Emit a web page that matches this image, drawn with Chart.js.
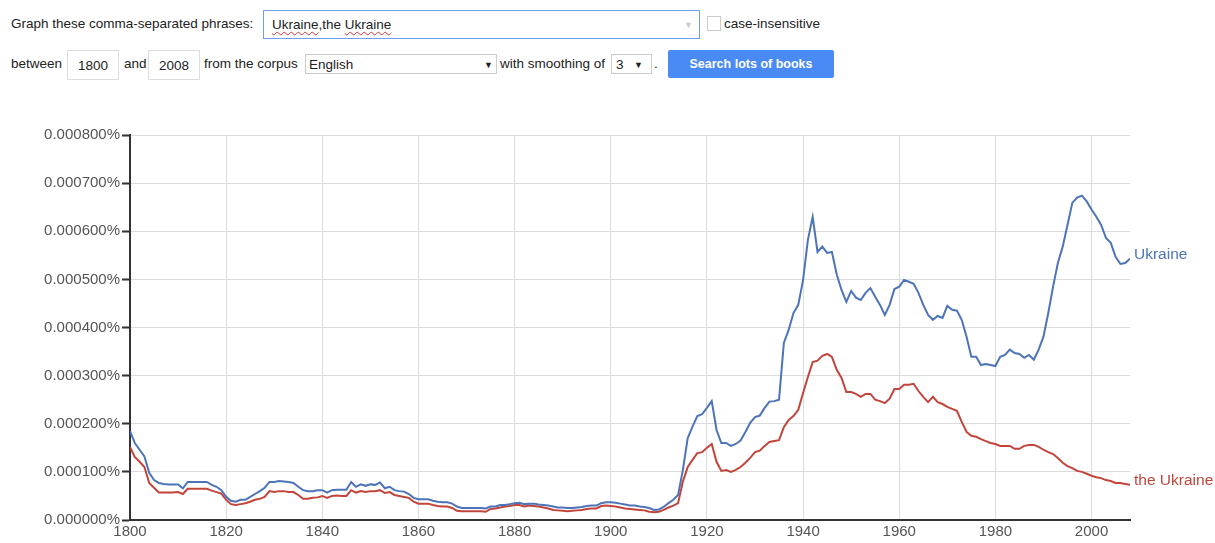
<!DOCTYPE html>
<html>
<head>
<meta charset="utf-8">
<title>Ukraine, the Ukraine</title>
<script src="https://cdn.jsdelivr.net/npm/chart.js@4.4.1/dist/chart.umd.min.js"></script>
<style>
  body { margin: 0; background: #fff; font-family: Arial, "Liberation Sans", sans-serif; color: #222; }
  .page { position: relative; width: 1215px; height: 543px; overflow: hidden; }
  .txt { position: absolute; font-size: 13.5px; line-height: 16px; white-space: nowrap; }
  .box { position: absolute; box-sizing: border-box; background: #fff; font-size: 13.5px; white-space: nowrap; }
  .sp { text-decoration: underline wavy #d33; text-decoration-thickness: 1px; text-underline-offset: 2px; }
  #wrap { position: absolute; left: 0; top: 120px; width: 1215px; height: 423px; }
</style>
</head>
<body>
<div class="page">
  <div class="txt" style="left:11px;top:16px;">Graph these comma-separated phrases:</div>
  <div class="box" style="left:263px;top:10px;width:437px;height:29px;border:1px solid #6d9eeb;padding:6px 0 0 8px;">
    <span class="sp">Ukraine</span>,the <span class="sp">Ukraine</span>
  </div>
  <div class="txt" style="left:684px;top:17px;color:#ccc;font-size:9px;">&#9660;</div>
  <div class="box" style="left:707px;top:16px;width:14px;height:15px;border:1px solid #ccc;"></div>
  <div class="txt" style="left:724px;top:16px;">case-insensitive</div>

  <div class="txt" style="left:11px;top:56px;">between</div>
  <div class="box" style="left:67px;top:50px;width:52px;height:30px;border:1px solid #ddd;padding:7px 0 0 0;text-align:center;">1800</div>
  <div class="txt" style="left:124px;top:56px;">and</div>
  <div class="box" style="left:148px;top:50px;width:52px;height:30px;border:1px solid #ddd;padding:7px 0 0 0;text-align:center;">2008</div>
  <div class="txt" style="left:204px;top:56px;">from the corpus</div>
  <div class="box" style="left:305px;top:54px;width:192px;height:20px;border:1px solid #ccc;padding:2px 0 0 3px;">English</div>
  <div class="txt" style="left:484px;top:57px;font-size:9px;">&#9660;</div>
  <div class="txt" style="left:500px;top:56px;">with smoothing of</div>
  <div class="box" style="left:611px;top:54px;width:41px;height:20px;border:1px solid #ccc;padding:2px 0 0 4px;">3</div>
  <div class="txt" style="left:634px;top:57px;font-size:9px;">&#9660;</div>
  <div class="txt" style="left:654px;top:56px;">.</div>
  <div class="box" style="left:668px;top:50px;width:166px;height:28px;background:#4a8af4;border-radius:2px;color:#fff;font-weight:bold;font-size:12.5px;text-align:center;padding-top:7px;">Search lots of books</div>

  <div id="wrap"><canvas id="grafica"></canvas></div>
</div>

<script>
// años 1800..2008, valores en millonésimas de punto porcentual (800 = 0.000800%)
const anioInicio = 1800;
const nombres = ["Ukraine", "the Ukraine"];
const colores = ["#4d74b8", "#c2453c"];

const ukraine = [
  185, 160, 146, 132, 98, 83, 77, 75, 74, 74,
  74, 66, 79, 79, 79, 79, 79, 73, 69, 62,
  48, 40, 38, 42, 42, 48, 54, 60, 67, 79,
  79, 81, 80, 79, 77, 69, 62, 60, 60, 62,
  62, 57, 62, 63, 63, 63, 79, 69, 74, 71,
  74, 73, 78, 66, 69, 62, 60, 59, 54, 46,
  43, 43, 43, 40, 38, 37, 37, 34, 28, 25,
  25, 25, 25, 25, 24, 28, 28, 31, 31, 33,
  35, 36, 33, 34, 34, 32, 31, 30, 28, 26,
  26, 25, 25, 26, 27, 29, 30, 30, 35, 37,
  37, 36, 34, 32, 30, 30, 28, 27, 25, 21,
  22, 27, 35, 42, 52, 104, 170, 194, 216, 220,
  233, 247, 187, 160, 160, 154, 158, 165, 183, 202,
  214, 217, 233, 246, 247, 250, 368, 395, 430, 447,
  499, 582, 630, 557, 568, 555, 557, 510, 478, 453,
  476, 462, 457, 472, 482, 464, 447, 426, 447, 480,
  485, 499, 495, 491, 472, 447, 426, 416, 424, 420,
  445, 437, 435, 416, 381, 339, 339, 322, 324, 322,
  320, 339, 343, 354, 347, 345, 337, 343, 333, 354,
  381, 430, 485, 534, 568, 613, 659, 670, 674, 662,
  645, 630, 613, 586, 576, 547, 532, 534, 543
];

const theUkraine = [
  152, 131, 121, 110, 77, 67, 57, 57, 57, 57,
  58, 54, 65, 65, 65, 65, 65, 61, 58, 55,
  42, 33, 31, 33, 35, 38, 42, 44, 48, 60,
  58, 60, 60, 58, 58, 52, 44, 44, 46, 47,
  50, 46, 50, 51, 50, 50, 62, 57, 60, 58,
  60, 60, 62, 56, 58, 52, 50, 48, 46, 38,
  34, 34, 34, 31, 29, 28, 28, 25, 19, 18,
  18, 18, 18, 18, 17, 23, 24, 26, 28, 29,
  31, 31, 28, 30, 29, 28, 26, 24, 21, 20,
  19, 18, 19, 20, 21, 23, 24, 24, 29, 30,
  29, 28, 26, 24, 23, 22, 21, 20, 17, 16,
  17, 21, 26, 30, 35, 80, 110, 125, 139, 141,
  150, 158, 121, 102, 104, 100, 104, 110, 119, 129,
  141, 144, 154, 162, 164, 166, 193, 208, 216, 229,
  264, 297, 328, 331, 341, 345, 339, 312, 295, 266,
  266, 262, 256, 262, 262, 250, 247, 243, 252, 272,
  272, 281, 281, 283, 268, 256, 245, 256, 245, 241,
  235, 231, 227, 204, 183, 175, 173, 168, 164, 160,
  158, 154, 154, 154, 148, 148, 154, 156, 156, 152,
  146, 141, 137, 129, 119, 112, 108, 102, 100, 96,
  92, 89, 87, 83, 81, 77, 77, 75, 73
];

const valoresEjeY = [0, 100, 200, 300, 400, 500, 600, 700, 800];
const aniosEjeX = [1800, 1820, 1840, 1860, 1880, 1900, 1920, 1940, 1960, 1980, 2000];

function aPuntos(serie) {
  return serie.map((v, i) => ({ x: anioInicio + i, y: v }));
}

// etiqueta con el nombre de la serie al final de cada linea
const etiquetasFinales = {
  id: "etiquetasFinales",
  afterDatasetsDraw(chart) {
    const ctx = chart.ctx;
    ctx.save();
    ctx.font = "15.5px Arial, 'Liberation Sans', sans-serif";
    ctx.textBaseline = "middle";
    ctx.textAlign = "left";
    chart.data.datasets.forEach((ds, i) => {
      const ultimo = ds.data[ds.data.length - 1];
      const px = chart.scales.x.getPixelForValue(ultimo.x);
      const py = chart.scales.y.getPixelForValue(ultimo.y);
      ctx.fillStyle = colores[i];
      ctx.fillText(nombres[i], px + 4, py - 4);
    });
    ctx.restore();
  }
};

function prepararConfiguracion() {
  const series = [ukraine, theUkraine];
  const fuente = { family: "Arial, 'Liberation Sans', sans-serif", size: 15 };
  const config = {
    type: "line",
    data: {
      datasets: series.map((s, i) => ({
        label: nombres[i],
        data: aPuntos(s),
        borderColor: colores[i],
        borderWidth: 2,
        pointRadius: 0,
        tension: 0,
        fill: false
      }))
    },
    options: {
      responsive: false,
      animation: false,
      events: [],
      layout: { padding: { top: 15, right: 85, left: 0, bottom: 0 } },
      plugins: { legend: { display: false }, tooltip: { enabled: false } },
      scales: {
        x: {
          type: "linear",
          min: 1800,
          max: 2008,
          afterBuildTicks: (scale) => {
            scale.ticks = aniosEjeX.map((v) => ({ value: v }));
          },
          afterFit: (scale) => { scale.height = 23; },
          grid: { color: "#dcdcdc", lineWidth: 1, drawTicks: false },
          border: { color: "#333", width: 2 },
          ticks: {
            padding: 3,
            color: "#555",
            font: fuente,
            callback: (v) => String(v)
          }
        },
        y: {
          min: 0,
          max: 800,
          afterBuildTicks: (scale) => {
            scale.ticks = valoresEjeY.map((v) => ({ value: v }));
          },
          afterFit: (scale) => { scale.width = 130; },
          grid: { color: "#dcdcdc", lineWidth: 1, tickLength: 8, tickColor: "#333", tickWidth: 2 },
          border: { color: "#333", width: 2 },
          ticks: {
            padding: 2,
            color: "#555",
            font: fuente,
            callback: (v) => (v / 1e6).toFixed(6) + "%"
          }
        }
      }
    },
    plugins: [etiquetasFinales]
  };
  return config;
}

function renderGrafica() {
  const canvas = document.getElementById("grafica");
  canvas.width = 1215;
  canvas.height = 423;
  canvas.style.width = "1215px";
  canvas.style.height = "423px";
  new Chart(canvas, prepararConfiguracion());
}

renderGrafica();
</script>
</body>
</html>
